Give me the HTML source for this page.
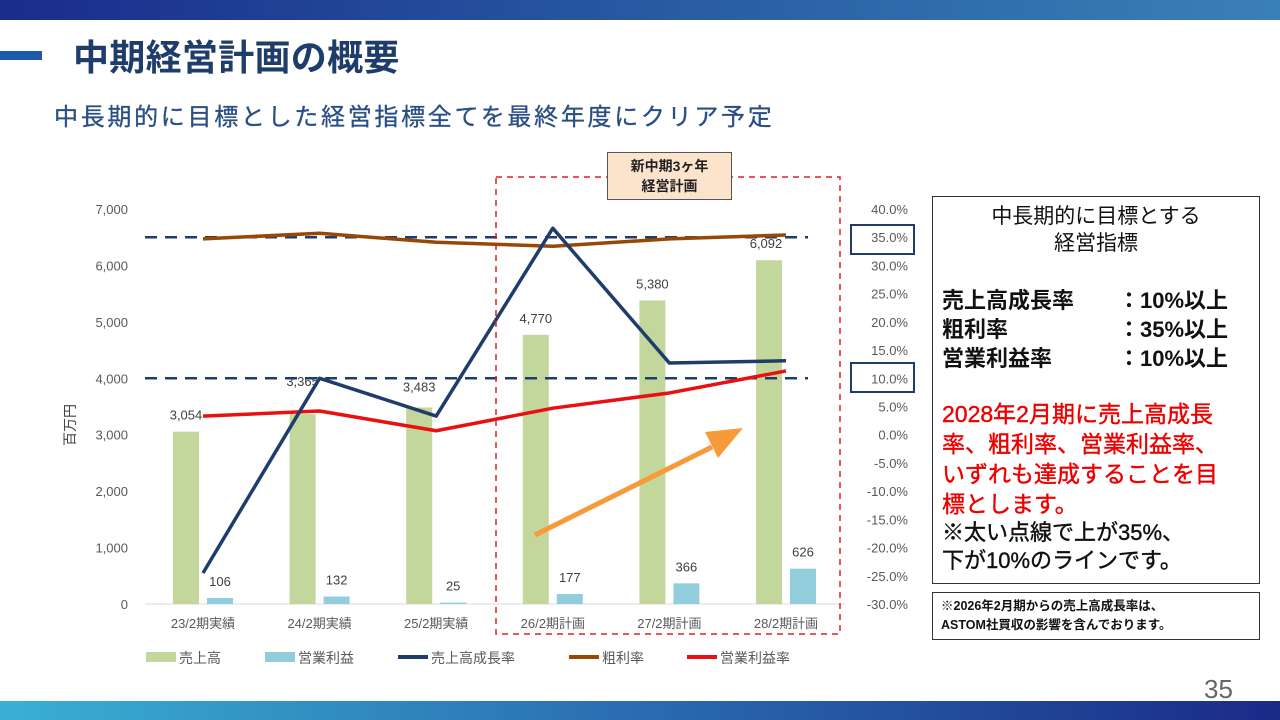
<!DOCTYPE html>
<html><head><meta charset="utf-8">
<style>
body{margin:0;width:1280px;height:720px;overflow:hidden;background:#fff;font-family:"Liberation Sans","Noto Sans CJK JP",sans-serif;position:relative}
.abs{position:absolute}
</style></head><body>
<div class="abs" style="left:0;top:0;width:1280px;height:20px;background:linear-gradient(90deg,#1a2c8c,#2a62a6 60%,#3a80b8)"></div>
<div class="abs" style="left:0;top:701px;width:1280px;height:19px;background:linear-gradient(90deg,#3ab0d4,#2a6cb0 50%,#1a2a88)"></div>
<div class="abs" style="left:0;top:51px;width:42px;height:9px;background:#1f5aaa"></div>
<div class="abs" style="left:73px;top:36px;font-size:36px;font-weight:bold;color:#1f3d6b;line-height:44px;letter-spacing:0.3px">中期経営計画の概要</div>
<div class="abs" style="left:54px;top:102px;font-size:24px;color:#2a4f84;line-height:32px;letter-spacing:2.7px;-webkit-text-stroke:0.3px #2a4f84">中長期的に目標とした経営指標全てを最終年度にクリア予定</div>
<div class="abs" style="left:1204px;top:674px;font-size:26px;color:#666">35</div>

<svg class="abs" style="left:0;top:0" width="1280" height="720" id="chart"></svg>

<div class="abs" style="left:607px;top:152px;width:125px;height:48px;background:#fbe3cc;border:1px solid #555;box-sizing:border-box;font-size:14px;font-weight:bold;text-align:center;line-height:20px;padding-top:3px;color:#222">新中期3ヶ年<br>経営計画</div>
<div class="abs" style="left:850px;top:224px;width:65px;height:31px;border:2px solid #1f3d6b;box-sizing:border-box"></div>
<div class="abs" style="left:850px;top:362px;width:65px;height:31px;border:2px solid #1f3d6b;box-sizing:border-box"></div>

<div class="abs" style="left:932px;top:196px;width:328px;height:388px;border:1px solid #333;box-sizing:border-box;padding:6px 9px;font-size:22px;font-weight:bold;color:#111;line-height:29px">
<div style="text-align:center;font-weight:normal;line-height:27px;font-size:21px">中長期的に目標とする<br>経営指標</div>
<div style="margin-top:29px">
<div style="display:flex"><span style="width:176px">売上高成長率</span><span>：10%以上</span></div>
<div style="display:flex"><span style="width:176px">粗利率</span><span>：35%以上</span></div>
<div style="display:flex"><span style="width:176px">営業利益率</span><span>：10%以上</span></div>
</div>
<div style="margin-top:26px;color:#e00;line-height:30px;font-size:23px;font-weight:normal;-webkit-text-stroke:0.4px #e00;width:290px">2028年2月期に売上高成長率、粗利率、営業利益率、いずれも達成することを目標とします。</div>
<div style="line-height:28px;font-size:22px;font-weight:normal;-webkit-text-stroke:0.4px #111">※太い点線で上が35%、<br>下が10%のラインです。</div>
</div>
<div class="abs" style="left:932px;top:592px;width:328px;height:48px;border:1px solid #333;box-sizing:border-box;padding:4px 8px;font-size:12.5px;line-height:19px;color:#111;font-weight:bold">※2026年2月期からの売上高成長率は、<br>ASTOM社買収の影響を含んでおります。</div>

<script>
const categories=["23/2期実績","24/2期実績","25/2期実績","26/2期計画","27/2期計画","28/2期計画"];
const sales=[3054,3365,3483,4770,5380,6092];
const opProfit=[106,132,25,177,366,626];
const growthRate=[-24.5,10.0,3.3,36.6,12.7,13.1];
const grossMargin=[34.7,35.7,34.1,33.4,34.7,35.4];
const opMargin=[3.3,4.2,0.7,4.7,7.4,11.3];
const leftTicks=[0,1000,2000,3000,4000,5000,6000,7000];
const rightTicks=[-30,-25,-20,-15,-10,-5,0,5,10,15,20,25,30,35,40];
const targets=[35,10];

const NS="http://www.w3.org/2000/svg";
const svg=document.getElementById('chart');
const y0=604,y1=209;
const yL=v=>y0-(v/7000)*(y0-y1);
const yR=v=>y0-((v+30)/70)*(y0-y1);
const xC=i=>203+i*116.6;
function mk(tag,attrs){const e=document.createElementNS(NS,tag);for(const k in attrs)e.setAttribute(k,attrs[k]);svg.appendChild(e);return e;}
const base=mk('line',{x1:145,x2:845,y1:y0,y2:y0,stroke:'#d9d9d9','stroke-width':1});


leftTicks.forEach(t=>{const e=mk('text',{x:128,y:yL(t)+5,'text-anchor':'end','font-size':13,fill:'#595959'});e.textContent=t.toLocaleString('en-US');

});
rightTicks.forEach(t=>{const e=mk('text',{x:908,y:yR(t)+5,'text-anchor':'end','font-size':13,fill:'#595959'});e.textContent=t.toFixed(1)+'%';

});
const yt=mk('text',{x:0,y:0,'font-size':14,fill:'#444',transform:'translate(75,425) rotate(-90)','text-anchor':'middle'});yt.textContent='百万円';


categories.forEach((c,i)=>{const e=mk('text',{x:xC(i),y:628,'text-anchor':'middle','font-size':13,fill:'#595959'});e.textContent=c;

});
sales.forEach((v,i)=>{const r=mk('rect',{x:xC(i)-30,y:yL(v),width:26,height:y0-yL(v),fill:'#c3d69b'});


const t=mk('text',{x:xC(i)-17+(i==5?-3:0),y:yL(v)-12-(i==1?16:0)+(i==2?-4:0),'text-anchor':'middle','font-size':13,fill:'#404040'});t.textContent=v.toLocaleString('en-US');

});
opProfit.forEach((v,i)=>{const r=mk('rect',{x:xC(i)+4,y:yL(v),width:26,height:y0-yL(v),fill:'#92cddc'});


const t=mk('text',{x:xC(i)+17,y:yL(v)-12,'text-anchor':'middle','font-size':13,fill:'#404040'});t.textContent=v.toLocaleString('en-US');

});
targets.forEach(t=>{const l=mk('line',{x1:145,x2:808,y1:yR(t),y2:yR(t),stroke:'#1f3d6b','stroke-width':2.5,'stroke-dasharray':'12,8'});

});
function series(arr,col,name){const p=mk('polyline',{points:arr.map((v,i)=>xC(i)+','+yR(v)).join(' '),fill:'none',stroke:col,'stroke-width':3.5,'stroke-linejoin':'round'});

}
series(grossMargin,'#974806','gross-margin-line');
series(opMargin,'#e81010','op-margin-line');
series(growthRate,'#1f3d6b','growth-rate-line');
const box=mk('rect',{x:496,y:177,width:344,height:457,fill:'none',stroke:'#e02020','stroke-width':1.5,'stroke-dasharray':'6,5'});


const ar=mk('line',{x1:535,y1:535,x2:712,y2:447,stroke:'#f79a3a','stroke-width':5});


const ah=mk('polygon',{points:'743,428 705,432 718,458',fill:'#f79a3a'});


const leg=[['売上高','#c3d69b',1,146],['営業利益','#92cddc',1,265],['売上高成長率','#1f3d6b',0,398],['粗利率','#974806',0,569],['営業利益率','#e81010',0,687]];
leg.forEach(l=>{const m=l[2]?mk('rect',{x:l[3],y:652,width:30,height:10,fill:l[1]}):mk('rect',{x:l[3],y:655,width:30,height:4,fill:l[1]});


const t=mk('text',{x:l[3]+33,y:663,'font-size':14,fill:'#595959'});t.textContent=l[0];

});
</script>
</body></html>
